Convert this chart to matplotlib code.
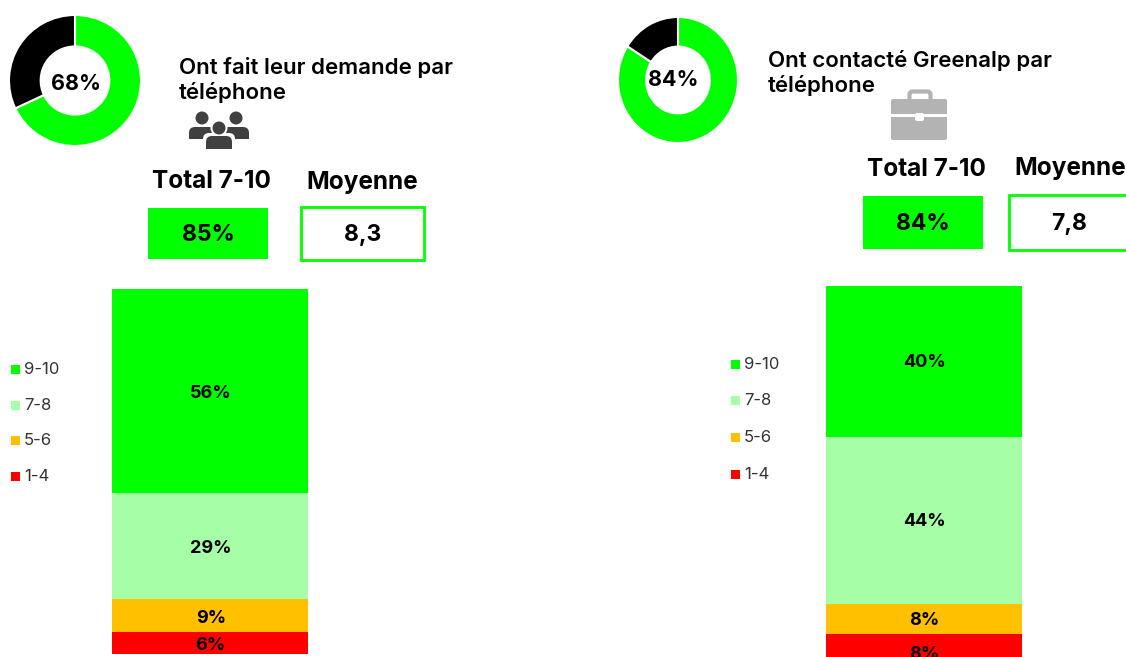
import matplotlib
matplotlib.use('Agg')
import matplotlib.pyplot as plt
from matplotlib.patches import Rectangle, Circle, FancyBboxPatch

plt.rcParams['font.family'] = ['Inter', 'DejaVu Sans']

W, H = 1126, 657

labels = ['9-10', '7-8', '5-6', '1-4']
colors = ['#00FF00', '#A6FFA6', '#FFC000', '#FF0000']

left_values = [56, 29, 9, 6]
right_values = [40, 44, 8, 8]

left_donut = [68, 32]
right_donut = [84, 16]
donut_colors = ['#00FF00', '#000000']

left_title = 'Ont fait leur demande par\ntéléphone'
right_title = 'Ont contacté Greenalp par\ntéléphone'
left_total, left_mean = '85%', '8,3'
right_total, right_mean = '84%', '7,8'


def px_axes(x0, y0, x1, y1):
    # axes from pixel box, y measured from the top
    return fig.add_axes([x0/W, 1-y1/H, (x1-x0)/W, (y1-y0)/H])


def donut(box, values, width, text, tx, ty):
    ax = px_axes(*box)
    ax.pie(values, colors=donut_colors, startangle=90, counterclock=False,
           radius=1, wedgeprops=dict(width=width, edgecolor='white', linewidth=1.5))
    ax.set_aspect('auto')
    ax.set_xlim(-1, 1)
    ax.set_ylim(-1, 1)
    bg.text(tx, ty, text, ha='center', va='center', fontsize=15.5, fontweight='bold', color='black')


def stacked(box, values, shifts):
    ax = px_axes(*box)
    bottom = 100
    for v, c, s in zip(values, colors, shifts):
        bottom -= v
        ax.bar(0, v, bottom=bottom, width=1, color=c)
        # shift in points, the font sits a little high
        ax.annotate('%d%%' % v, (0, bottom+v/2), xytext=(0.5, -s), textcoords='offset points',
                    ha='center', va='center', fontsize=13, fontweight='bold',
                    color='black', annotation_clip=False)
    ax.set_xlim(-0.5, 0.5)
    ax.set_ylim(0, 100)
    ax.axis('off')


def legend(x, ys):
    for lab, c, y in zip(labels, colors, ys):
        bg.add_patch(Rectangle((x, y-4.5), 9, 9, color=c, lw=0))
        bg.text(x+13, y+0.5, lab, ha='left', va='center', fontsize=12, color='#333333')


def kpi(x_head1, x_head2, y_head, box1, box2, total, mean):
    bg.text(x_head1, y_head, 'Total 7-10', ha='center', va='center', fontsize=17.5, fontweight='bold', color='black')
    bg.text(x_head2, y_head, 'Moyenne', ha='center', va='center', fontsize=17.5, fontweight='bold', color='black')
    x, y, w, h = box1
    bg.add_patch(Rectangle((x, y), w, h, color='#00FF00', lw=0))
    bg.text(x+w/2, y+h/2+1.5, total, ha='center', va='center', fontsize=16.5, fontweight='bold', color='black')
    x, y, w, h = box2
    bg.add_patch(Rectangle((x, y), w, h, fc='white', ec='#00FF00', lw=2))
    bg.text(x+w/2, y+h/2+1.5, mean, ha='center', va='center', fontsize=16.5, fontweight='bold', color='black')


def body(x0, x1, y0, y1, col):
    # shoulders rounded on top, flat at the bottom
    bg.add_patch(FancyBboxPatch((x0, y0), x1-x0, y1-y0, boxstyle='round,pad=0,rounding_size=6', fc=col, ec='none'))
    bg.add_patch(Rectangle((x0, y0+(y1-y0)*0.5), x1-x0, (y1-y0)*0.5, fc=col, ec='none'))


fig = plt.figure(figsize=(W/100, H/100), dpi=100, facecolor='white')
bg = fig.add_axes([0, 0, 1, 1])
bg.set_xlim(0, W)
bg.set_ylim(H, 0)
bg.axis('off')

donut((9, 15, 141, 146), left_donut, 0.48, '68%', 76, 84)
donut((618, 17, 738, 143), right_donut, 0.47, '84%', 673, 80)

bg.text(179, 80, left_title, ha='left', va='center', fontsize=16, fontweight='semibold', linespacing=1.19)
bg.text(768, 73, right_title, ha='left', va='center', fontsize=16, fontweight='semibold', linespacing=1.19)

# people icon
icon = '#404040'
bg.add_patch(Circle((202, 118), 6.5, color=icon, lw=0))
bg.add_patch(Circle((236, 118), 6.5, color=icon, lw=0))
body(189, 215, 127, 138.5, icon)
body(223, 249, 127, 138.5, icon)
bg.add_patch(Circle((219, 128), 8.5, color='white', lw=0))
body(203, 235, 133, 150, 'white')
bg.add_patch(Circle((219, 128), 6.5, color=icon, lw=0))
body(206, 232, 136, 149, icon)

# briefcase icon
grey = '#B3B3B3'
bg.add_patch(FancyBboxPatch((909.5, 91.5), 21, 14, boxstyle='round,pad=0,rounding_size=3', fc='none', ec=grey, lw=3))
bg.add_patch(FancyBboxPatch((891, 99), 56, 41, boxstyle='round,pad=0,rounding_size=2', fc=grey, ec='none'))
bg.add_patch(Rectangle((891, 114), 56, 2.5, color='white', lw=0))
bg.add_patch(FancyBboxPatch((915, 113), 9, 8, boxstyle='round,pad=0,rounding_size=2', fc='white', ec='none'))

kpi(211, 362.5, 182, (148, 208, 120, 51), (301, 207, 123, 53), left_total, left_mean)
kpi(926.5, 1070, 169, (863, 196, 120, 53), (1009, 195, 120, 55), right_total, right_mean)

legend(11, [369, 405, 440, 476])
legend(731, [364, 400, 437, 474])

stacked((112, 289, 308, 653.6), left_values, [2, 2, 2, 2])
stacked((826, 286, 1022, 664), right_values, [1, 1, 1, 4])

fig.savefig('out.png', dpi=100)
